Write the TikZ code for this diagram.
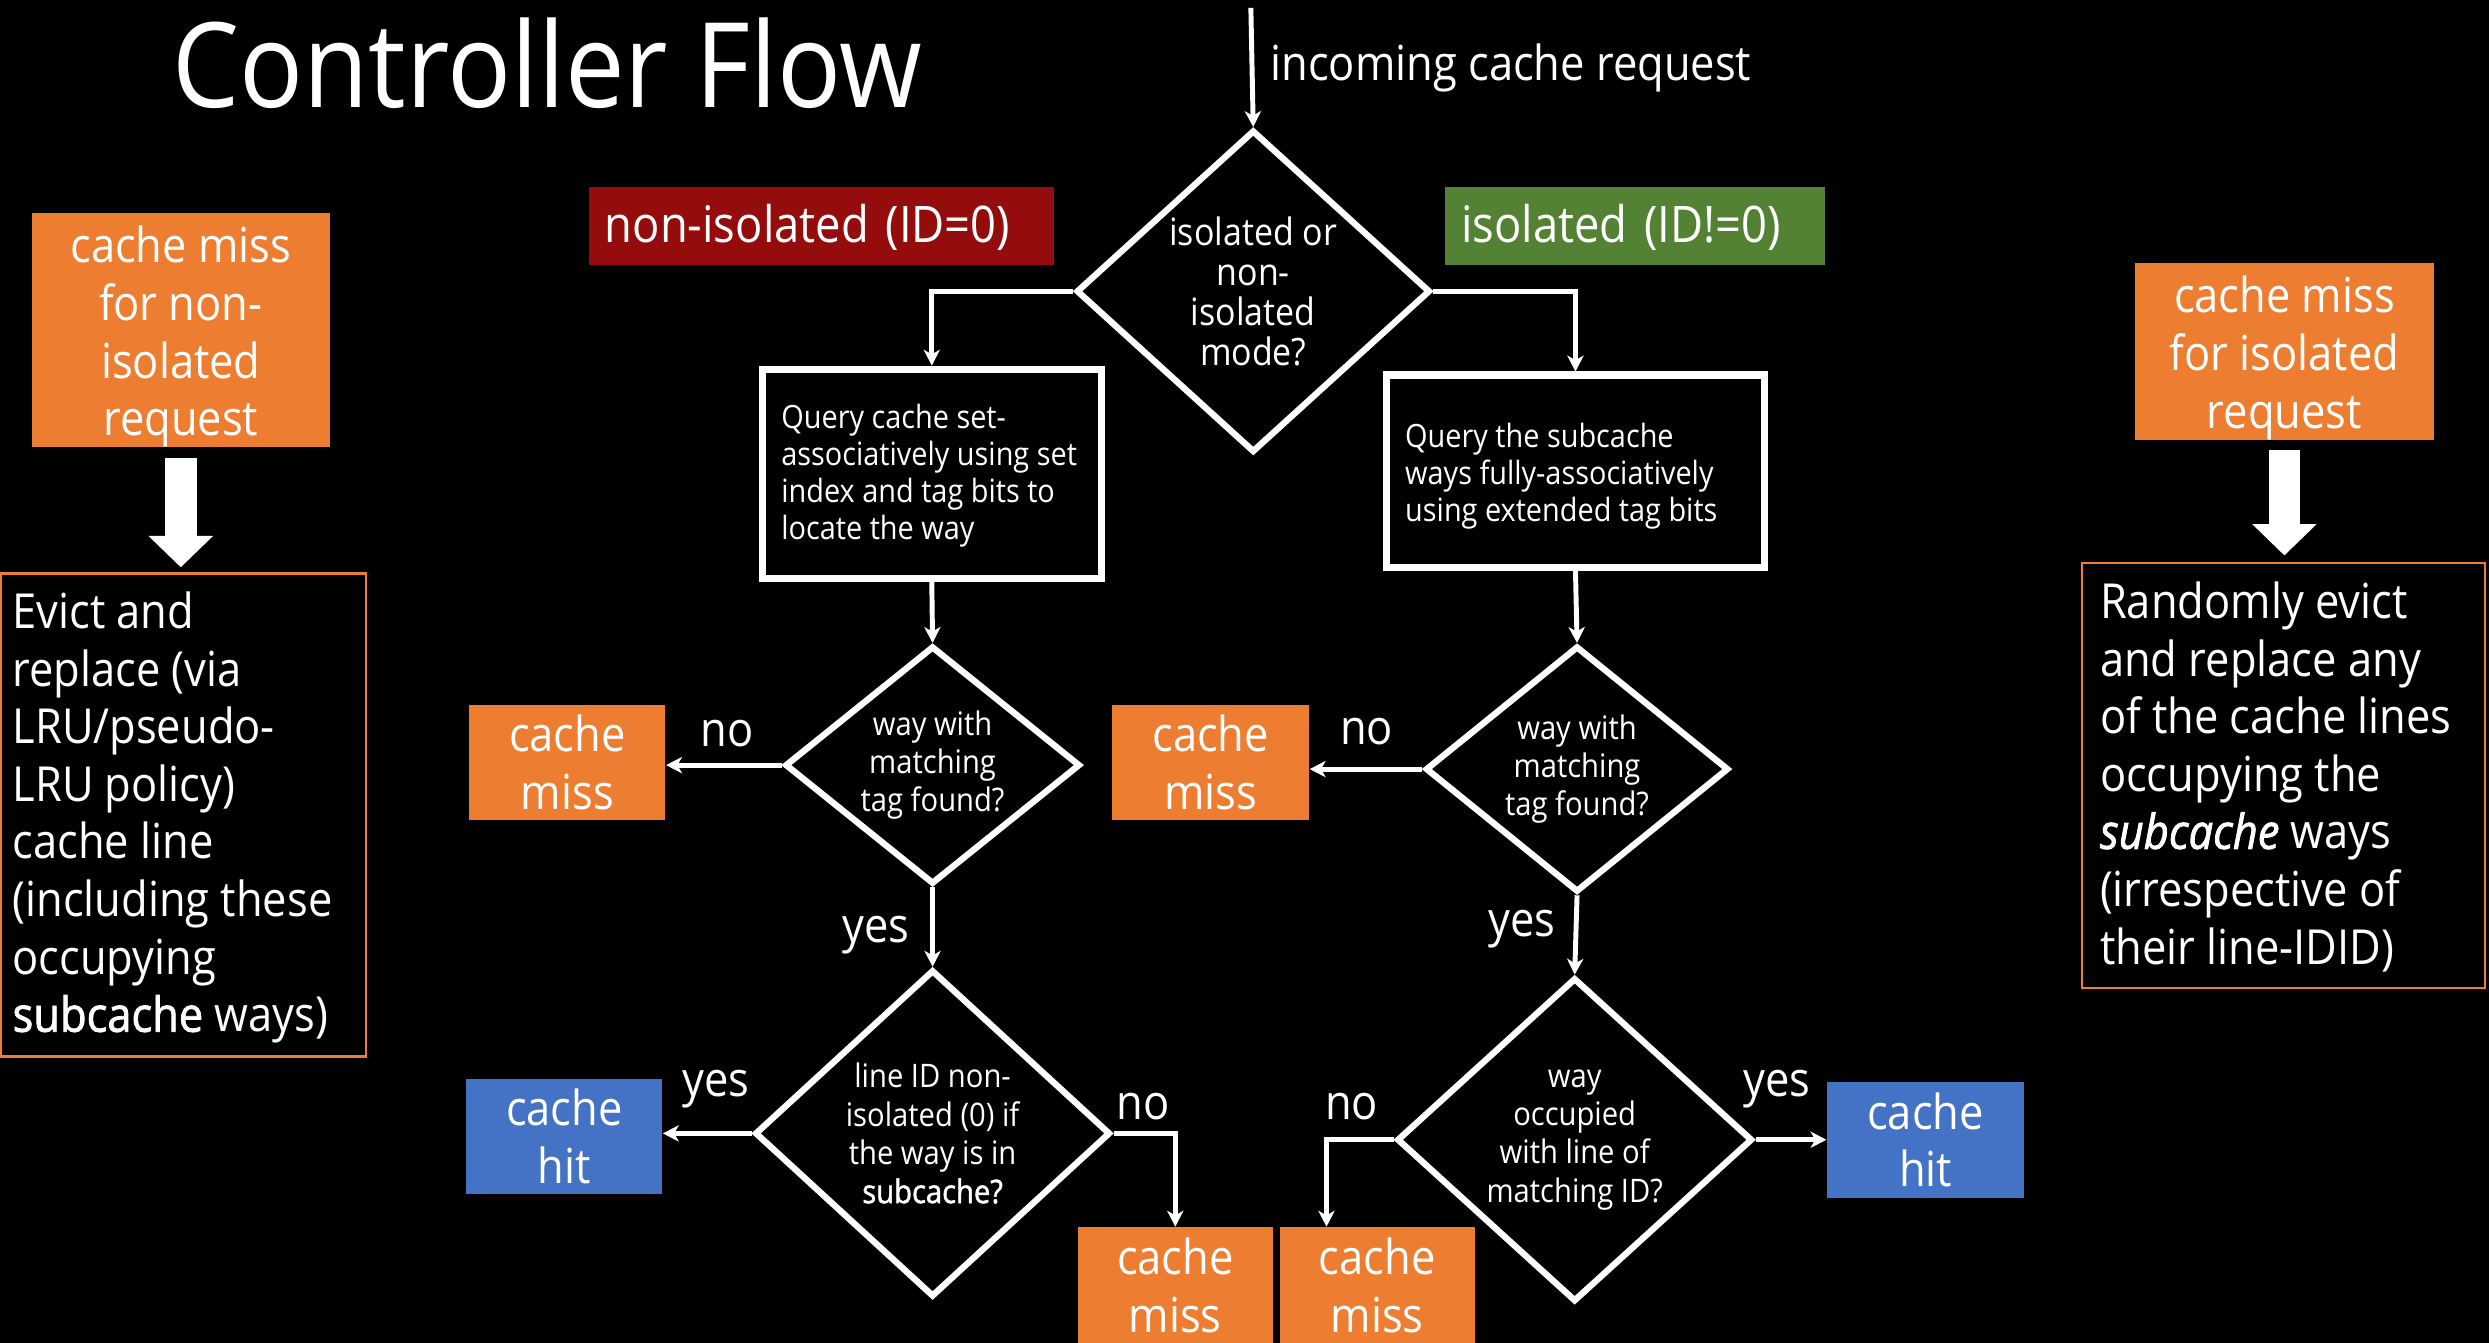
\documentclass[tikz,border=0pt]{standalone}
\usepackage{fontspec}
\setmainfont{Open Sans}[FakeStretch=0.9]
\newfontfamily\semib{Open Sans}[FakeStretch=0.9, FakeBold=1.6]
\usetikzlibrary{arrows.meta,calc,shapes.geometric}

\definecolor{missorange}{HTML}{ED7D31}
\definecolor{hitblue}{HTML}{4472C4}
\definecolor{isogreen}{HTML}{548235}
\definecolor{nonisored}{HTML}{950C0C}
\newcommand{\pxs}{0.4504pt}
% taller first line pushes a centred block of lines slightly down
\newcommand{\lowstrut}{\rule{0pt}{14.2pt}}

\begin{document}
\begin{tikzpicture}[
  x=0.4504pt, y=-0.4504pt,
  every node/.style={text=white, inner sep=0pt},
  sz/.style 2 args={minimum width=#1*\pxs, minimum height=#2*\pxs},
  bigfont/.style={font=\fontsize{13.7}{16.35}\selectfont},
  labelfont/.style={font=\fontsize{14.3}{17}\selectfont},
  qfont/.style={font=\fontsize{9.1}{10.5}\selectfont},
  dfont/.style={font=\fontsize{9.2}{10.9}\selectfont},
  modefont/.style={font=\fontsize{10.7}{11.35}\selectfont},
  decision/.style={diamond, draw=white, line width=1.8pt},
  querybox/.style={rectangle, draw=white, line width=2pt},
  missbox/.style={rectangle, fill=missorange, align=center, bigfont},
  hitbox/.style={rectangle, fill=hitblue, align=center, bigfont},
  notebox/.style={rectangle, draw=missorange, line width=0.6pt},
  modelabel/.style={rectangle, align=left, labelfont, inner xsep=10*\pxs},
  flow/.style={draw=white, line width=1.4pt, -{Stealth[length=4.5pt,width=4.6pt,inset=1.3pt]}},
  bigarrow/.style={draw=white, line width=9pt, -{Triangle[width=17.8pt,length=8.9pt]}},
  answer/.style={anchor=base, bigfont},
]
\useasboundingbox (0,0) rectangle (1568,846);
\fill[black] (0,0) rectangle (1568,846);

% heading and entry point
\node[anchor=base west, font=\fontsize{33.5}{40}\selectfont] (title) at (108,67.6) {Controller Flow};
\coordinate (entry) at (788,5);
\node[anchor=base west, bigfont] (inc) at (800,50.4) {incoming cache request};

% mode labels
\node[modelabel, fill=nonisored, sz={293}{49}, text width=273*\pxs] (nonisolab) at (517.5,142.5) {\rule{0pt}{11.6pt}non-isolated (ID=0)};
\node[modelabel, fill=isogreen, sz={239.4}{49}, text width=219.4*\pxs] (isolab) at (1030.2,142.5) {\rule{0pt}{11.6pt}isolated (ID!=0)};

% mode decision
\node[decision, sz={223}{203}] (d1) at (789.5,183.5) {};
\node[modefont, align=center] (d1t) at (d1.center) {isolated or\\non-\\isolated\\mode?};

% lookup boxes
\node[querybox, sz={213.6}{131.9}] (b1) at (587,298.5) {};
\node[qfont, align=left, anchor=north west] (b1t) at (491.8,254.4) {Query cache set-\\associatively using set\\index and tag bits to\\locate the way};
\node[querybox, sz={238.6}{121}] (b2) at (992.5,296.75) {};
\node[qfont, align=left, anchor=north west] (b2t) at (884.8,266.3) {Query the subcache\\ways fully-associatively\\using extended tag bits};

% tag match decisions
\node[decision, sz={186}{150}] (d2) at (587.5,482) {};
\node[dfont, align=center] (d2t) at (d2.center) {way with\\matching\\tag found?};
\node[decision, sz={191}{155}] (d4) at (993.5,484.5) {};
\node[dfont, align=center] (d4t) at (d4.center) {way with\\matching\\tag found?};

% ID decisions
\node[decision, sz={224}{206}] (d3) at (587.5,714) {};
\node[dfont, align=center] (d3t) at (d3.center) {line ID non-\\isolated (0) if\\the way is in\\{\semib subcache?}};
\node[decision, sz={224}{204}] (d5) at (992,718) {};
\node[dfont, align=center] (d5t) at (d5.center) {way\\occupied\\with line of\\matching ID?};

% outcomes
\node[missbox, sz={123.6}{72.7}] (m1) at (357.4,480.2) {cache\\miss};
\node[hitbox, sz={123.3}{72.9}] (h1) at (355.5,716) {cache\\hit};
\node[missbox, sz={123.9}{72.8}] (m2) at (762.7,480.3) {cache\\miss};
\node[hitbox, sz={123.9}{72.8}] (h2) at (1213,718.1) {cache\\hit};
\node[missbox, sz={123}{72.8}] (m3) at (740.4,809.6) {cache\\miss};
\node[missbox, sz={123}{72.8}] (m4) at (867.6,809.6) {cache\\miss};

% replacement policies
\node[missbox, sz={187.6}{147}] (cm1) at (113.9,207.9) {\lowstrut cache miss\\for non-\\isolated\\request};
\node[notebox, sz={229.7}{304.3}] (ev1) at (115.5,513.4) {};
\node[bigfont, align=left, anchor=north west] (ev1t) at (7.5,372.3) {Evict and\\replace (via\\LRU/pseudo-\\LRU policy)\\cache line\\(including these\\occupying\\{\semib subcache} ways)};
\node[missbox, sz={188.6}{108.7}] (cm2) at (1439.1,221.3) {\lowstrut cache miss\\for isolated\\request};
\node[notebox, sz={254.3}{267.7}] (ev2) at (1438.5,488.7) {};
\node[bigfont, align=left, anchor=north west] (ev2t) at (1322.5,366) {Randomly evict\\and replace any\\of the cache lines\\occupying the\\{\semib\itshape subcache} ways\\(irrespective of\\their line-IDID)};

\draw[bigarrow, shorten <=6.6*\pxs, shorten >=3.2*\pxs] (cm1.south) -- (cm1.south |- ev1.north);
\draw[bigarrow, shorten <=6.3*\pxs, shorten >=4.3*\pxs] (cm2.south) -- (cm2.south |- ev2.north);

% flow connectors
\draw[flow] (entry) -- (d1.north);
\draw[flow] (d1.west) -| (b1.north);
\draw[flow] (d1.east) -| (b2.north);
\draw[flow] (b1.south) -- (d2.north);
\draw[flow] (b2.south) -- (d4.north);
\draw[flow] (d2.west) -- (d2.west -| m1.east);
\draw[flow] (d4.west) -- (d4.west -| m2.east);
\draw[flow] (d2.south) -- (d3.north);
\draw[flow] (d4.south) -- (d5.north);
\draw[flow] (d3.west) -- (d3.west -| h1.east);
\draw[flow] (d3.east) -| (m3.north);
\draw[flow] (d5.east) -- (d5.east -| h2.west);
\draw[flow] (d5.west) -| ($(m4.north west)+(30,0)$);

% branch answers
\node[answer] (no1) at (458,470) {no};
\node[answer] (yes1) at (551.7,594) {yes};
\node[answer] (yes2) at (451,690.7) {yes};
\node[answer] (no2) at (720,705) {no};
\node[answer] (no3) at (861,469) {no};
\node[answer] (yes3) at (958.6,590.2) {yes};
\node[answer] (no4) at (851.5,705) {no};
\node[answer] (yes4) at (1119.3,690.7) {yes};
\end{tikzpicture}
\end{document}
